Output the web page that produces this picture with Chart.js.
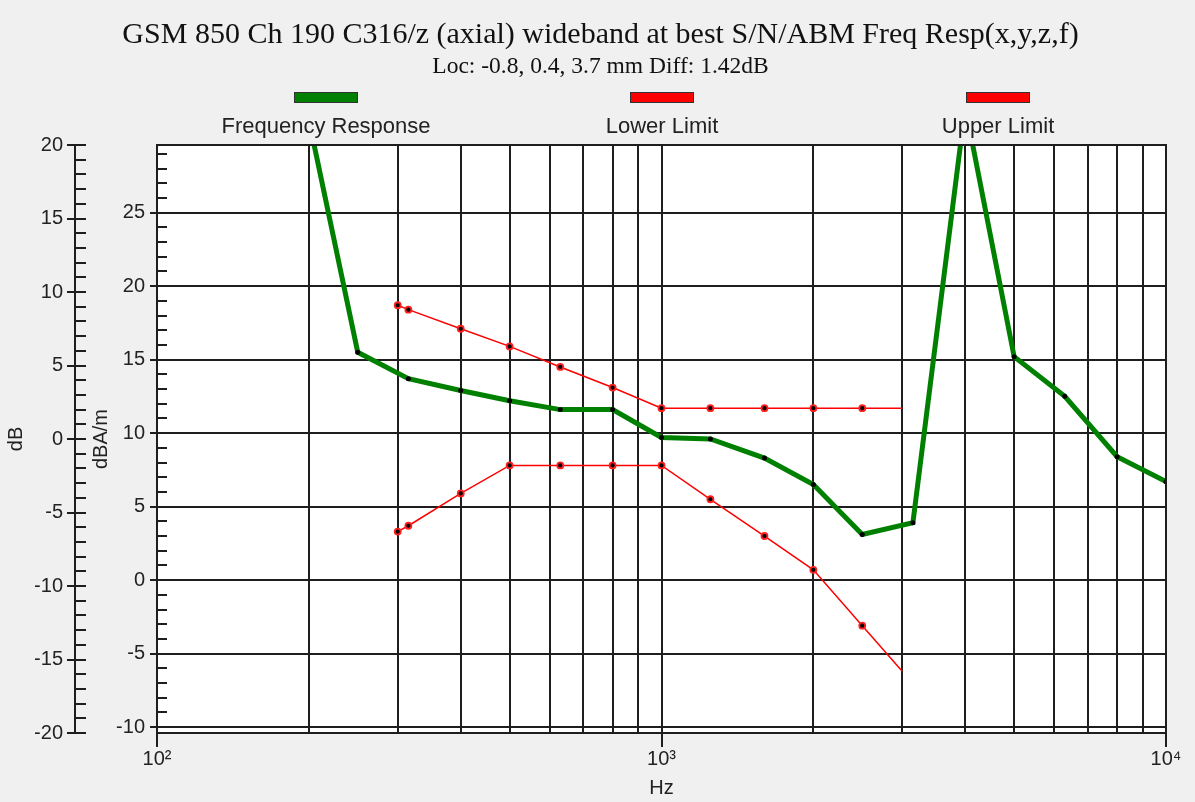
<!DOCTYPE html>
<html lang="en">
<head>
<meta charset="UTF-8">
<title>GSM 850 Freq Resp</title>
<script src="https://cdn.jsdelivr.net/npm/chart.js"></script>
<style>
  html, body { margin: 0; padding: 0; background: #f0f0f0; }
  #grafico { display: block; }
</style>
</head>
<body>
<canvas id="grafico" width="1195" height="802"></canvas>
<script>
// dados (eixo dBA/m)
const respostaHz = [200, 250, 315, 400, 500, 630, 800, 1000, 1250, 1600, 2000, 2500, 3150, 4000, 5000, 6300, 8000, 10000];
const respostaDb = [31.3, 15.5, 13.7, 12.9, 12.2, 11.6, 11.6, 9.7, 9.6, 8.3, 6.5, 3.1, 3.9, 32.2, 15.2, 12.5, 8.4, 6.7];

const limiteHz = [300, 315, 400, 500, 630, 800, 1000, 1250, 1600, 2000, 2500, 3000];
const limiteInferior = [3.3, 3.7, 5.9, 7.8, 7.8, 7.8, 7.8, 5.5, 3.0, 0.7, -3.1, -6.2];
const limiteSuperior = [18.7, 18.4, 17.1, 15.9, 14.5, 13.1, 11.7, 11.7, 11.7, 11.7, 11.7, 11.7];

// ticks
const gradeHz = [100, 200, 300, 400, 500, 600, 700, 800, 900, 1000, 2000, 3000, 4000, 5000, 6000, 7000, 8000, 9000, 10000];
const decadas = [100, 1000, 10000];
const rotulosDecada = ['10²', '10³', '10⁴'];
const ticksDbam = [-10, -5, 0, 5, 10, 15, 20, 25];
const ticksDb = [-20, -15, -10, -5, 0, 5, 10, 15, 20];

const titulo = 'GSM 850 Ch 190 C316/z (axial) wideband at best S/N/ABM Freq Resp(x,y,z,f)';
const subtitulo = 'Loc: -0.8, 0.4, 3.7 mm Diff: 1.42dB';

const corGrade = '#1e1e1e';
const corTexto = '#222222';
const fonteSans = '"Liberation Sans", Arial, sans-serif';
const fonteSerif = '"Liberation Serif", "Times New Roman", serif';

Chart.defaults.font.family = fonteSans;

function pares(xs, ys) {
    return xs.map((x, i) => ({ x: x, y: ys[i] }));
}

// fundo cinza e area do grafico branca
const fundoPlugin = {
    id: 'fundo',
    beforeDraw(chart) {
        const { ctx, chartArea: a } = chart;
        ctx.save();
        ctx.fillStyle = '#f0f0f0';
        ctx.fillRect(0, 0, chart.width, chart.height);
        ctx.fillStyle = '#ffffff';
        ctx.fillRect(a.left, a.top, a.right - a.left, a.bottom - a.top);
        ctx.restore();
    }
};

// eixo externo dB, ticks menores e legenda com caixa acima do texto
const eixosPlugin = {
    id: 'eixos',
    beforeDatasetsDraw(chart) {
        const { ctx, chartArea: a } = chart;
        const y = chart.scales.y, y2 = chart.scales.y2;
        ctx.save();
        ctx.strokeStyle = corGrade;
        ctx.lineWidth = 2;
        ctx.beginPath();
        const ax = Math.round(y2.right - 11);
        ctx.moveTo(ax, Math.round(y2.getPixelForValue(y2.max)));
        ctx.lineTo(ax, Math.round(y2.getPixelForValue(y2.min)));
        for (let v = y2.min; v <= y2.max; v++) {
            const p = Math.round(y2.getPixelForValue(v));
            ctx.moveTo(v % 5 === 0 ? ax - 8 : ax, p);
            ctx.lineTo(ax + 11, p);
        }
        for (let v = Math.ceil(y.min); v <= y.max; v++) {
            if (v % 5 === 0) continue;
            const p = Math.round(y.getPixelForValue(v));
            ctx.moveTo(a.left, p);
            ctx.lineTo(a.left + 10, p);
        }
        ctx.stroke();
        ctx.restore();
    },
    afterDraw(chart) {
        const { ctx, chartArea: a } = chart;
        ctx.save();
        ctx.strokeStyle = corGrade;
        ctx.lineWidth = 2;
        ctx.strokeRect(Math.round(a.left), Math.round(a.top), Math.round(a.right - a.left), Math.round(a.bottom - a.top));
        const meio = (a.left + a.right) / 2;
        chart.data.datasets.forEach((ds, i) => {
            const cx = Math.round(meio + (i - 1) * 336);
            ctx.fillStyle = ds.borderColor;
            ctx.fillRect(cx - 32, 92, 64, 11);
            ctx.strokeStyle = '#333333';
            ctx.lineWidth = 1;
            ctx.strokeRect(cx - 31.5, 92.5, 63, 10);
            ctx.fillStyle = corTexto;
            ctx.font = '22px ' + fonteSans;
            ctx.textAlign = 'center';
            ctx.textBaseline = 'middle';
            ctx.fillText(ds.label, cx, 127);
        });
        ctx.restore();
    }
};

const ctx = document.getElementById('grafico').getContext('2d');

new Chart(ctx, {
    type: 'line',
    data: {
        datasets: [
            {
                label: 'Frequency Response',
                data: pares(respostaHz, respostaDb),
                borderColor: '#008000',
                backgroundColor: '#008000',
                borderWidth: 5,
                pointRadius: 2.5,
                pointBorderWidth: 0,
                pointBackgroundColor: '#000000',
                yAxisID: 'y'
            },
            {
                label: 'Lower Limit',
                data: pares(limiteHz, limiteInferior),
                borderColor: '#ff0000',
                backgroundColor: '#ff0000',
                borderWidth: 1.5,
                pointRadius: c => c.dataIndex === limiteHz.length - 1 ? 0 : 3,
                pointBorderWidth: 1.8,
                pointBorderColor: '#ff2020',
                pointBackgroundColor: '#000000',
                yAxisID: 'y'
            },
            {
                label: 'Upper Limit',
                data: pares(limiteHz, limiteSuperior),
                borderColor: '#ff0000',
                backgroundColor: '#ff0000',
                borderWidth: 1.5,
                pointRadius: c => c.dataIndex === limiteHz.length - 1 ? 0 : 3,
                pointBorderWidth: 1.8,
                pointBorderColor: '#ff2020',
                pointBackgroundColor: '#000000',
                yAxisID: 'y'
            }
        ]
    },
    options: {
        responsive: false,
        animation: false,
        devicePixelRatio: 1,
        layout: { padding: { top: 0, left: 35, right: 29, bottom: 0 } },
        elements: { line: { tension: 0 } },
        plugins: {
            legend: { display: false },
            tooltip: { enabled: false },
            title: {
                display: true,
                text: titulo,
                color: '#111111',
                font: { family: fonteSerif, size: 30, weight: 'normal' },
                padding: { top: 17, bottom: 0 }
            },
            subtitle: {
                display: true,
                text: subtitulo,
                color: '#111111',
                font: { family: fonteSerif, size: 23.5, weight: 'normal' },
                padding: { top: 0, bottom: 63.8 }
            }
        },
        scales: {
            x: {
                type: 'logarithmic',
                min: 100,
                max: 10000,
                afterBuildTicks: s => { s.ticks = gradeHz.map(v => ({ value: v })); },
                afterFit: s => { s.height = 69; },
                grid: {
                    color: corGrade,
                    lineWidth: 2,
                    tickLength: 14,
                    tickWidth: 2,
                    tickColor: c => (c.tick && decadas.includes(c.tick.value)) ? corGrade : 'rgba(0,0,0,0)'
                },
                border: { display: true, color: corGrade, width: 2 },
                ticks: {
                    autoSkip: false,
                    maxRotation: 0,
                    padding: 0,
                    color: corTexto,
                    font: { size: 20 },
                    callback: v => {
                        const i = decadas.indexOf(v);
                        return i >= 0 ? rotulosDecada[i] : '';
                    }
                },
                title: {
                    display: true,
                    text: 'Hz',
                    color: corTexto,
                    font: { size: 20 },
                    padding: { top: 0, bottom: 2 }
                }
            },
            y: {
                type: 'linear',
                position: 'left',
                weight: 0,
                min: -10.4,
                max: 29.6,
                afterBuildTicks: s => { s.ticks = ticksDbam.map(v => ({ value: v })); },
                afterFit: s => { s.width = 71; },
                grid: { color: corGrade, lineWidth: 2, tickLength: 7 },
                border: { display: true, color: corGrade, width: 2 },
                ticks: { padding: 5, color: corTexto, font: { size: 20 } },
                title: {
                    display: true,
                    text: 'dBA/m',
                    color: corTexto,
                    font: { size: 20 },
                    padding: { top: 3, bottom: 0 }
                }
            },
            y2: {
                type: 'linear',
                position: 'left',
                weight: 1,
                min: -20,
                max: 20,
                afterBuildTicks: s => { s.ticks = ticksDb.map(v => ({ value: v })); },
                afterFit: s => { s.width = 51; },
                grid: { display: false, drawTicks: false },
                border: { display: false },
                ticks: { padding: 23, color: corTexto, font: { size: 20 } },
                title: {
                    display: true,
                    text: 'dB',
                    color: corTexto,
                    font: { size: 20 },
                    padding: { top: -31, bottom: 0 }
                }
            }
        }
    },
    plugins: [fundoPlugin, eixosPlugin]
});
</script>
</body>
</html>
